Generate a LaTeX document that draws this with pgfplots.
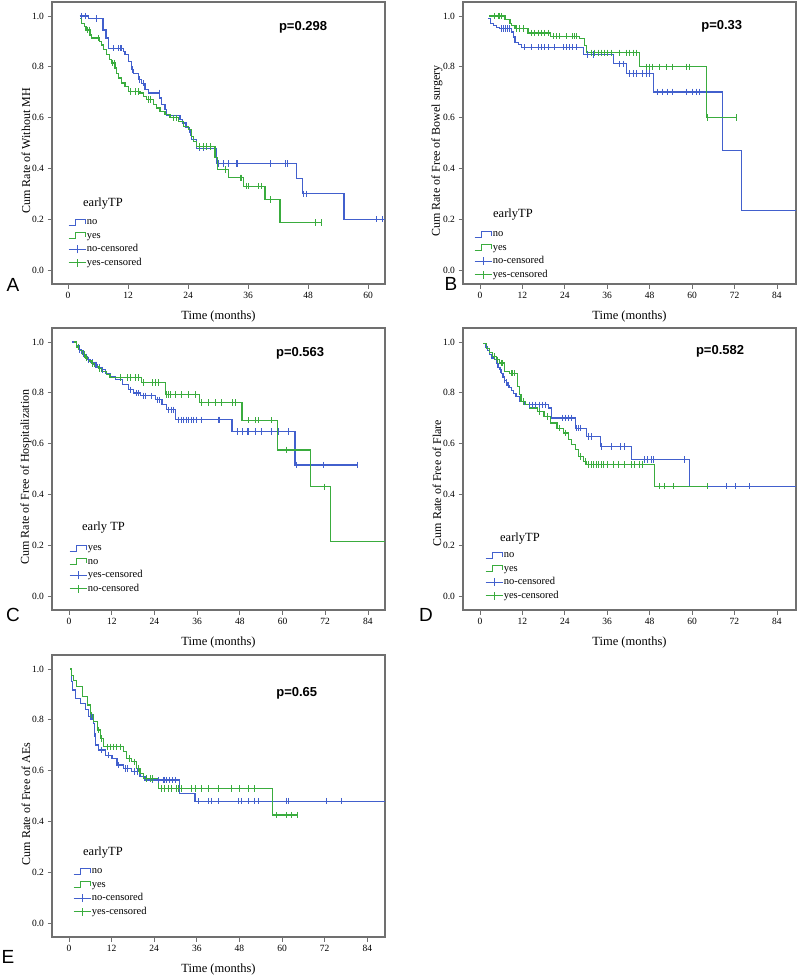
\documentclass[border=0pt]{standalone}
\usepackage{fontspec}
\setmainfont{Liberation Serif}
\newfontfamily\arialfont{Liberation Sans}
\usepackage{pgfplots}
\pgfplotsset{compat=1.18}
\definecolor{kmblue}{RGB}{66,96,205}
\definecolor{kmgreen}{RGB}{58,172,62}
\definecolor{framegray}{RGB}{112,112,112}
\tikzset{
  ptext/.style={font=\arialfont\bfseries\fontsize{13}{14}\selectfont, anchor=center},
  ltitle/.style={font=\fontsize{12.5}{13}\selectfont, anchor=west, inner sep=0pt},
}
\pgfplotsset{
  km/.style={
    scale only axis, width=333pt, height=282pt, anchor=north west,
    ymin=-0.055, ymax=1.055,
    ytick={0,0.2,0.4,0.6,0.8,1.0},
    yticklabel style={/pgf/number format/.cd,fixed,fixed zerofill,precision=1},
    xtick={0,12,...,84},
    tick pos=left, tick align=outside, major tick length=4.5pt,
    tick style={framegray, line width=0.8pt},
    axis line style={framegray, line width=1.2pt},
    ticklabel style={font=\fontsize{9.5}{10}\selectfont},
    /pgf/number format/assume math mode=true,
    xlabel={Time (months)},
    xlabel style={at={(axis description cs:0.5,-0.115)}, anchor=center, font=\fontsize{12.5}{14}\selectfont},
    ylabel style={at={(axis description cs:-0.078,0.472)}, anchor=center, font=\fontsize{12}{14}\selectfont},
    legend cell align=left,
    legend style={draw=none, fill=none, anchor=north west, inner sep=0pt, row sep=2.5pt,
      font=\fontsize{10.5}{11}\selectfont,
      nodes={inner sep=0.5pt, text height=7.5pt, text depth=2.5pt}},
    clip=false,
  },
  bstep/.style={kmblue, const plot, line width=1.15pt, mark=none,
    legend image code/.code={\draw[kmblue,line width=1.1pt] (0pt,-3pt) -- (7pt,-3pt) -- (7pt,3pt) -- (17pt,3pt) -- (17pt,-1.5pt);}},
  gstep/.style={kmgreen, const plot, line width=1.15pt, mark=none,
    legend image code/.code={\draw[kmgreen,line width=1.1pt] (0pt,-3pt) -- (7pt,-3pt) -- (7pt,3pt) -- (17pt,3pt) -- (17pt,-1.5pt);}},
  bcens/.style={kmblue, only marks, mark=|, mark size=3.2pt, mark options={line width=0.9pt},
    legend image code/.code={\draw[kmblue,line width=1.1pt] (0pt,0pt) -- (17pt,0pt) (8.5pt,-4pt) -- (8.5pt,4pt);}},
  gcens/.style={kmgreen, only marks, mark=|, mark size=3.2pt, mark options={line width=0.9pt},
    legend image code/.code={\draw[kmgreen,line width=1.1pt] (0pt,0pt) -- (17pt,0pt) (8.5pt,-4pt) -- (8.5pt,4pt);}},
}
\begin{document}
\begin{tikzpicture}
\path[use as bounding box] (0pt,0pt) rectangle (800pt,-976pt);
% ---------------- A
\begin{axis}[km, at={(52pt,-2pt)}, xmin=-3.2, xmax=63.4, xtick={0,12,...,60},
  ylabel={Cum Rate of Without MH},
  legend style={at={(axis description cs:0.048,0.239)}}]
\addplot[bstep] coordinates {(2.3,1.0)(4.1,0.99)(7.0,0.945)(7.6,0.913)(8.1,0.873)(11.1,0.86)(11.4,0.847)(12.1,0.82)(12.7,0.79)(13.1,0.775)(14.1,0.75)(14.7,0.735)(15.4,0.71)(16.1,0.697)(18.3,0.677)(18.7,0.651)(19.4,0.631)(19.7,0.607)(22.4,0.592)(22.9,0.579)(23.6,0.56)(24.3,0.54)(24.7,0.514)(25.7,0.48)(29.7,0.42)(45.7,0.36)(46.9,0.30)(55.2,0.20)(63.4,0.20)};
\addlegendentry{no}
\addplot[gstep] coordinates {(2.4,0.99)(2.7,0.971)(3.3,0.958)(3.6,0.945)(4.4,0.925)(4.7,0.913)(6.3,0.90)(6.7,0.886)(7.1,0.867)(7.7,0.847)(8.3,0.828)(8.7,0.815)(9.4,0.795)(9.7,0.775)(10.1,0.756)(10.7,0.736)(11.4,0.723)(12.1,0.703)(14.4,0.697)(15.1,0.684)(15.7,0.671)(17.1,0.651)(17.7,0.638)(18.4,0.625)(19.4,0.612)(20.4,0.599)(22.1,0.586)(23.1,0.566)(24.1,0.553)(24.7,0.527)(25.1,0.507)(25.7,0.487)(29.4,0.442)(29.9,0.396)(32.1,0.363)(35.1,0.33)(39.4,0.278)(42.4,0.187)(50.7,0.187)};
\addlegendentry{yes}
\addplot[bcens] coordinates {(2.7,1.0)(3.5,1.0)(5.7,0.99)(9.0,0.873)(10.0,0.873)(10.4,0.873)(10.7,0.873)(12.9,0.79)(14.3,0.75)(15.0,0.735)(18.2,0.697)(24.4,0.54)(26.2,0.48)(27.0,0.48)(30.1,0.42)(31.1,0.42)(32.1,0.42)(33.6,0.42)(33.8,0.42)(40.4,0.42)(43.4,0.42)(43.9,0.42)(47.1,0.30)(47.7,0.30)(61.7,0.20)(62.9,0.20)};
\addlegendentry{no-censored}
\addplot[gcens] coordinates {(3.8,0.945)(4.2,0.945)(6.0,0.913)(8.9,0.815)(9.2,0.815)(12.5,0.703)(13.4,0.703)(14.0,0.703)(16.0,0.671)(16.5,0.671)(21.0,0.599)(21.6,0.599)(26.3,0.487)(27.0,0.487)(27.6,0.487)(28.5,0.487)(31.4,0.396)(34.4,0.363)(34.7,0.363)(35.7,0.33)(36.1,0.33)(38.1,0.33)(38.7,0.33)(40.4,0.278)(49.4,0.187)(50.7,0.187)};
\addlegendentry{yes-censored}
\node[ptext] at (axis description cs:0.754,0.911) {p=0.298};
\node[ltitle] at (axis description cs:0.093,0.287) {earlyTP};
\end{axis}
% ---------------- B
\begin{axis}[km, at={(463pt,-2pt)}, xmin=-4.8, xmax=89.4,
  ylabel={Cum Rate of Free of Bowel surgery},
  legend style={at={(axis description cs:0.033,0.197)}}]
\addplot[bstep] coordinates {(2.3,0.99)(3.0,0.972)(3.8,0.963)(4.7,0.953)(5.6,0.95)(8.9,0.937)(9.4,0.917)(9.9,0.897)(10.8,0.888)(11.8,0.877)(29.3,0.848)(37.8,0.812)(41.4,0.773)(49.1,0.701)(68.6,0.47)(74.1,0.235)(89.4,0.235)};
\addlegendentry{no}
\addplot[gstep] coordinates {(2.6,1.0)(7.1,0.985)(8.5,0.972)(8.9,0.963)(9.9,0.95)(13.6,0.933)(19.9,0.92)(28.2,0.91)(29.6,0.884)(30.1,0.855)(45.1,0.80)(64.0,0.60)(72.6,0.60)};
\addlegendentry{yes}
\addplot[bcens] coordinates {(6.1,0.95)(6.6,0.95)(7.2,0.95)(7.8,0.95)(8.4,0.95)(12.7,0.877)(14.6,0.877)(16.5,0.877)(17.4,0.877)(18.3,0.877)(19.3,0.877)(21.2,0.877)(23.5,0.877)(24.5,0.877)(25.4,0.877)(26.3,0.877)(27.3,0.877)(30.5,0.848)(32.0,0.848)(39.5,0.812)(40.6,0.812)(42.3,0.773)(43.3,0.773)(44.2,0.773)(46.1,0.773)(47.0,0.773)(48.0,0.773)(50.3,0.701)(51.7,0.701)(53.1,0.701)(54.5,0.701)(58.3,0.701)(60.2,0.701)(61.1,0.701)(62.1,0.701)};
\addlegendentry{no-censored}
\addplot[gcens] coordinates {(4.2,1.0)(5.2,1.0)(5.6,1.0)(6.1,1.0)(10.3,0.95)(11.2,0.95)(12.2,0.95)(14.6,0.933)(15.5,0.933)(16.5,0.933)(17.4,0.933)(18.3,0.933)(19.3,0.933)(20.7,0.92)(21.6,0.92)(22.6,0.92)(24.5,0.92)(26.3,0.92)(26.8,0.92)(27.3,0.92)(31.5,0.855)(32.4,0.855)(33.4,0.855)(34.3,0.855)(35.3,0.855)(36.2,0.855)(37.2,0.855)(39.5,0.855)(41.4,0.855)(42.3,0.855)(43.3,0.855)(44.2,0.855)(47.0,0.80)(48.0,0.80)(48.9,0.80)(50.8,0.80)(52.7,0.80)(54.5,0.80)(58.3,0.80)(59.3,0.80)(64.4,0.60)(72.6,0.60)};
\addlegendentry{yes-censored}
\node[ptext] at (axis description cs:0.777,0.915) {p=0.33};
\node[ltitle] at (axis description cs:0.09,0.245) {earlyTP};
\end{axis}
% ---------------- C
\begin{axis}[km, at={(52pt,-328pt)}, xmin=-4.8, xmax=88.8,
  ylabel={Cum Rate of Free of Hospitalization},
  legend style={at={(axis description cs:0.051,0.239)}}]
\addplot[bstep] coordinates {(0.8,1.0)(2.0,0.985)(2.8,0.97)(3.6,0.955)(4.4,0.942)(5.2,0.93)(6.0,0.92)(7.0,0.91)(8.0,0.9)(9.0,0.89)(10.2,0.877)(11.6,0.864)(13.0,0.851)(14.9,0.832)(16.8,0.812)(18.2,0.799)(20.0,0.788)(24.2,0.772)(26.1,0.753)(27.5,0.733)(29.8,0.694)(45.8,0.648)(63.5,0.516)(81.3,0.516)};
\addlegendentry{yes}
\addplot[gstep] coordinates {(1.3,1.0)(2.2,0.98)(3.0,0.965)(3.8,0.95)(4.6,0.937)(5.4,0.925)(6.2,0.915)(7.2,0.905)(8.2,0.895)(9.2,0.885)(10.4,0.872)(11.5,0.86)(20.3,0.84)(27.1,0.793)(36.6,0.762)(48.6,0.692)(58.6,0.575)(67.8,0.43)(73.4,0.216)(88.8,0.216)};
\addlegendentry{no}
\addplot[bcens] coordinates {(3.0,0.97)(4.0,0.955)(5.0,0.942)(5.5,0.93)(6.5,0.92)(7.3,0.91)(7.8,0.91)(8.5,0.9)(9.5,0.89)(17.3,0.812)(18.8,0.799)(19.5,0.799)(20.8,0.788)(21.5,0.788)(23.2,0.788)(24.8,0.772)(25.5,0.772)(27.9,0.733)(28.8,0.733)(29.3,0.733)(30.8,0.694)(31.5,0.694)(32.2,0.694)(32.9,0.694)(33.6,0.694)(34.3,0.694)(35.0,0.694)(35.7,0.694)(37.3,0.694)(41.9,0.694)(42.4,0.694)(47.2,0.648)(48.6,0.648)(50.0,0.648)(50.5,0.648)(52.3,0.648)(54.2,0.648)(57.0,0.648)(58.9,0.648)(61.7,0.648)(64.0,0.516)(71.5,0.516)(81.0,0.516)};
\addlegendentry{yes-censored}
\addplot[gcens] coordinates {(2.5,0.98)(4.2,0.95)(5.0,0.937)(6.6,0.915)(8.6,0.895)(14.4,0.86)(16.3,0.86)(17.2,0.86)(18.6,0.86)(19.5,0.86)(20.9,0.84)(23.3,0.84)(24.2,0.84)(25.2,0.84)(27.5,0.793)(27.9,0.793)(28.4,0.793)(29.8,0.793)(31.7,0.793)(33.6,0.793)(35.4,0.793)(37.3,0.762)(39.2,0.762)(41.1,0.762)(42.9,0.762)(45.8,0.762)(46.7,0.762)(50.5,0.692)(52.3,0.692)(53.3,0.692)(57.0,0.692)(61.2,0.575)(71.8,0.43)};
\addlegendentry{no-censored}
\node[ptext] at (axis description cs:0.745,0.910) {p=0.563};
\node[ltitle] at (axis description cs:0.09,0.291) {early TP};
\end{axis}
% ---------------- D
\begin{axis}[km, at={(463pt,-328pt)}, xmin=-4.8, xmax=89.4,
  ylabel={Cum Rate of Free of Flare},
  ylabel style={at={(axis description cs:-0.078,0.45)}},
  legend style={at={(axis description cs:0.066,0.215)}}]
\addplot[bstep] coordinates {(0.9,0.995)(1.6,0.98)(2.2,0.965)(2.8,0.95)(3.4,0.937)(4.0,0.93)(4.6,0.915)(5.1,0.9)(5.5,0.89)(6.0,0.875)(6.5,0.862)(6.9,0.85)(7.4,0.84)(7.8,0.83)(8.3,0.82)(8.8,0.81)(9.5,0.797)(10.2,0.786)(11.1,0.766)(12.5,0.753)(19.5,0.740)(20.3,0.701)(27.0,0.661)(30.2,0.628)(34.0,0.589)(42.8,0.537)(59.2,0.432)(89.4,0.432)};
\addlegendentry{no}
\addplot[gstep] coordinates {(0.9,0.995)(1.8,0.975)(2.6,0.96)(3.6,0.943)(4.6,0.93)(5.5,0.917)(6.9,0.884)(8.3,0.877)(10.6,0.825)(11.1,0.793)(11.6,0.766)(12.8,0.753)(14.0,0.740)(16.2,0.727)(18.1,0.707)(20.0,0.681)(21.8,0.661)(23.7,0.642)(25.1,0.616)(26.0,0.596)(27.0,0.576)(27.9,0.549)(29.3,0.530)(30.2,0.517)(49.4,0.432)(64.3,0.432)};
\addlegendentry{yes}
\addplot[bcens] coordinates {(5.8,0.89)(7.0,0.85)(7.6,0.84)(8.0,0.83)(13.9,0.753)(14.8,0.753)(15.8,0.753)(16.7,0.753)(17.6,0.753)(18.6,0.753)(23.2,0.701)(24.2,0.701)(25.1,0.701)(26.0,0.701)(27.4,0.661)(27.9,0.661)(28.4,0.661)(30.7,0.628)(31.6,0.628)(34.4,0.589)(37.2,0.589)(39.6,0.589)(41.0,0.589)(46.6,0.537)(47.5,0.537)(48.4,0.537)(49.2,0.537)(57.8,0.537)(69.7,0.432)(72.2,0.432)(76.1,0.432)};
\addlegendentry{no-censored}
\addplot[gcens] coordinates {(4.0,0.943)(5.0,0.93)(6.0,0.917)(6.4,0.917)(8.8,0.877)(9.3,0.877)(9.8,0.877)(12.3,0.766)(16.8,0.727)(19.0,0.707)(22.5,0.661)(24.3,0.642)(28.5,0.549)(29.7,0.530)(30.8,0.517)(31.5,0.517)(32.2,0.517)(32.9,0.517)(33.6,0.517)(34.3,0.517)(35.0,0.517)(36.0,0.517)(37.7,0.517)(39.1,0.517)(41.0,0.517)(42.8,0.517)(43.8,0.517)(45.2,0.517)(46.1,0.517)(50.8,0.432)(52.2,0.432)(54.6,0.432)(64.3,0.432)};
\addlegendentry{yes-censored}
\node[ptext] at (axis description cs:0.772,0.916) {p=0.582};
\node[ltitle] at (axis description cs:0.111,0.255) {earlyTP};
\end{axis}
% ---------------- E
\begin{axis}[km, at={(52pt,-655pt)}, xmin=-4.8, xmax=89,
  ylabel={Cum Rate of Free of AEs},
  legend style={at={(axis description cs:0.063,0.254)}}]
\addplot[bstep] coordinates {(0.4,1.0)(0.6,0.95)(0.9,0.917)(1.8,0.884)(3.2,0.865)(4.6,0.839)(5.5,0.812)(6.9,0.786)(7.2,0.734)(7.4,0.701)(8.3,0.681)(10.2,0.661)(12.1,0.648)(13.5,0.622)(15.4,0.609)(17.7,0.596)(20.0,0.576)(21.4,0.563)(31.2,0.51)(35.5,0.48)(89,0.48)};
\addlegendentry{no}
\addplot[gstep] coordinates {(0.4,1.0)(0.7,0.975)(1.3,0.955)(2.2,0.930)(3.7,0.891)(5.1,0.858)(6.0,0.819)(6.9,0.793)(7.9,0.760)(8.8,0.727)(9.7,0.694)(15.4,0.674)(16.3,0.648)(17.7,0.635)(19.1,0.609)(20.0,0.589)(21.0,0.569)(25.2,0.530)(57.2,0.425)(64.4,0.425)};
\addlegendentry{yes}
\addplot[bcens] coordinates {(6.0,0.812)(6.4,0.812)(6.7,0.812)(7.3,0.734)(9.0,0.681)(11.0,0.661)(14.0,0.622)(16.0,0.609)(16.5,0.609)(18.5,0.596)(19.2,0.596)(23.5,0.563)(25.3,0.563)(26.5,0.563)(27.0,0.563)(27.5,0.563)(28.3,0.563)(29.0,0.563)(30.0,0.563)(36.4,0.48)(39.2,0.48)(40.1,0.48)(42.0,0.48)(47.6,0.48)(48.6,0.48)(50.4,0.48)(52.3,0.48)(53.3,0.48)(61.2,0.48)(61.7,0.48)(72.4,0.48)(76.6,0.48)};
\addlegendentry{no-censored}
\addplot[gcens] coordinates {(6.3,0.819)(8.3,0.760)(9.2,0.727)(10.7,0.694)(11.6,0.694)(12.5,0.694)(13.4,0.694)(14.4,0.694)(17.0,0.648)(18.5,0.635)(19.5,0.609)(21.8,0.569)(22.8,0.569)(23.5,0.569)(26.1,0.53)(27.0,0.53)(28.0,0.53)(28.9,0.53)(30.3,0.53)(30.8,0.53)(31.7,0.53)(34.5,0.53)(35.5,0.53)(37.3,0.53)(39.2,0.53)(42.0,0.53)(45.8,0.53)(48.1,0.53)(50.4,0.53)(52.3,0.53)(58.3,0.425)(61.1,0.425)(62.7,0.425)(64.4,0.425)};
\addlegendentry{yes-censored}
\node[ptext] at (axis description cs:0.735,0.864) {p=0.65};
\node[ltitle] at (axis description cs:0.093,0.298) {earlyTP};
\end{axis}
% panel letters
\node[font=\arialfont\fontsize{19}{20}\selectfont] at (13pt,-285pt) {A};
\node[font=\arialfont\fontsize{19}{20}\selectfont] at (451pt,-284pt) {B};
\node[font=\arialfont\fontsize{19}{20}\selectfont] at (13pt,-615pt) {C};
\node[font=\arialfont\fontsize{19}{20}\selectfont] at (426pt,-615pt) {D};
\node[font=\arialfont\fontsize{19}{20}\selectfont] at (8pt,-957pt) {E};
\end{tikzpicture}
\end{document}
